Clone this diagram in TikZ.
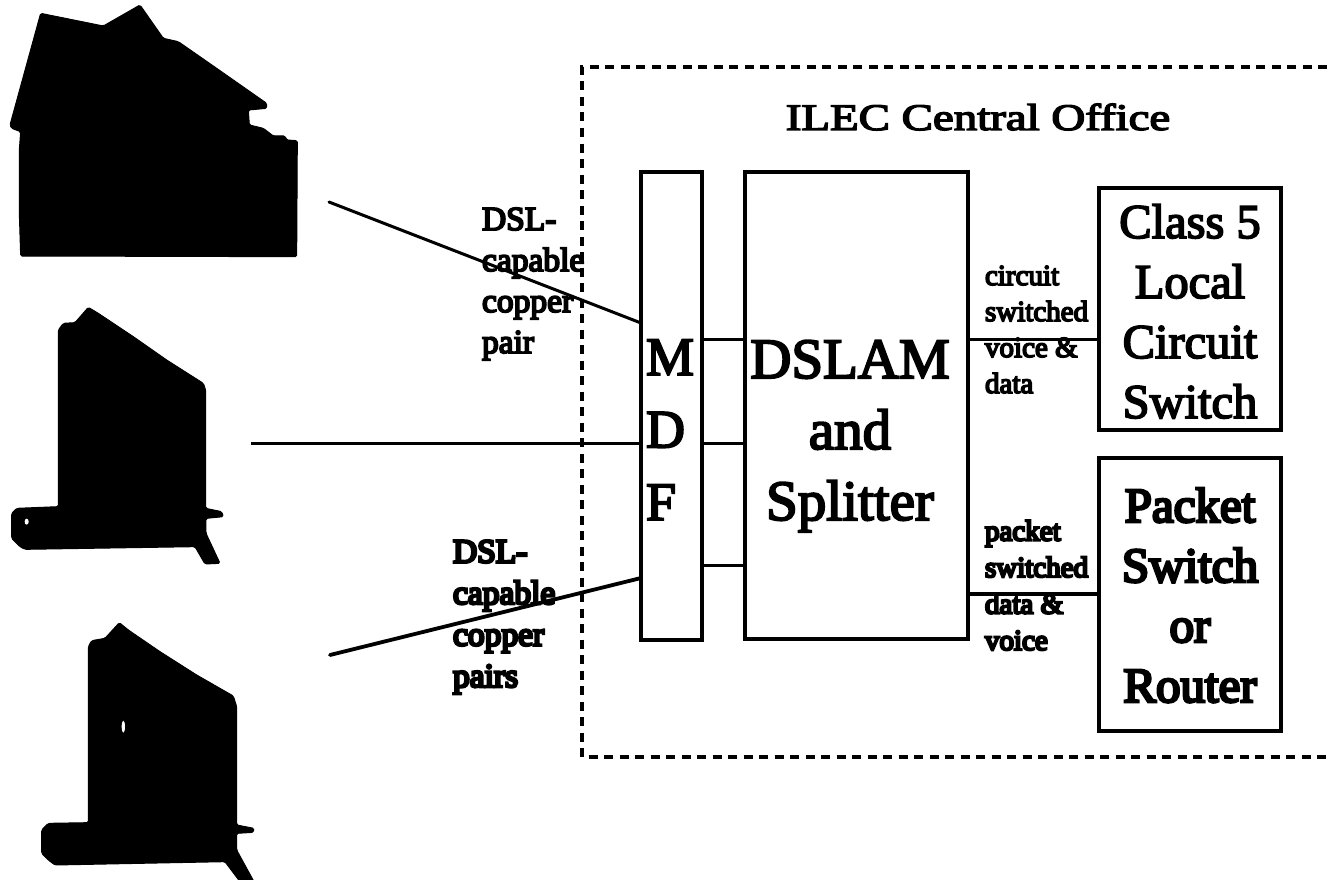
\documentclass[tikz,border=0pt]{standalone}
\usepackage{fontspec}
\setmainfont{Liberation Serif}
\newfontfamily\fatserif[FakeBold=3.5]{Liberation Serif}
\newfontfamily\fatterserif[FakeBold=5.5]{Liberation Serif}
\newfontfamily\fattestserif[FakeBold=8]{Liberation Serif}
\newcommand{\fsz}[2]{\fontsize{#1}{#2}\selectfont}
\tikzset{
  boxshape/.style={draw=black,line width=3.5pt,inner sep=0pt,outer sep=0pt,fill=none},
  wire/.style={draw=black,line width=3pt},
  thickwire/.style={draw=black,line width=3.8pt,line cap=round},
  officeline/.style={draw=black,line width=3.6pt,dash pattern=on 9pt off 6.5pt},
  house/.style={fill=black,draw=black,line width=1pt,rounded corners=1.5pt},
  tag/.style={inner sep=0pt,outer sep=0pt,anchor=base west,align=left},
  boxtext/.style={inner sep=0pt,outer sep=0pt,anchor=base,align=center},
}
\begin{document}
\begin{tikzpicture}[x=1pt,y=-1pt]
\useasboundingbox (0,0) rectangle (1327,880);
\fill[white] (0,0) rectangle (1327,880);

% houses
\begin{scope}[x=0.33333pt,y=-0.33333pt]
\path[house] (122,40) -- (310,78) -- (420,15) -- (490,115) -- (535,125) -- (660,212) -- (800,310) -- (800,325) -- (745,330) -- (748,375) -- (790,385) -- (820,408) -- (855,408) -- (860,420) -- (892,422) -- (890,770) -- (62,768) -- (58,640) -- (58,450) -- (62,395) -- (35,385) -- (30,375) -- cycle;
\end{scope}
\begin{scope}[shift={(0,290)},x=0.33333pt,y=-0.33333pt]
\path[house] (265,52) -- (295,70) -- (400,140) -- (500,210) -- (610,280) -- (617,300) -- (617,655) -- (665,665) -- (670,680) -- (618,685) -- (618,730) -- (660,820) -- (615,822) -- (585,770) -- (75,778) -- (60,770) -- (35,745) -- (35,670) -- (50,655) -- (175,650) -- (175,120) -- (190,100) -- (225,98) -- cycle;
\fill[white] (80,695) ellipse (6 and 9);
\end{scope}
\begin{scope}[shift={(20,600)},x=0.33333pt,y=-0.33333pt]
\path[house] (298,68) -- (325,90) -- (420,155) -- (530,225) -- (640,288) -- (650,320) -- (650,675) -- (702,685) -- (700,697) -- (650,700) -- (650,750) -- (702,845) -- (660,845) -- (615,785) -- (105,795) -- (85,780) -- (65,760) -- (65,690) -- (85,670) -- (205,668) -- (205,140) -- (215,122) -- (255,115) -- cycle;
\fill[white] (310,380) ellipse (5 and 18);
\end{scope}

% central office outline (open at the right)
\coordinate (officeTR) at (1327,67);
\coordinate (officeTL) at (582,67);
\coordinate (officeBL) at (582,757);
\coordinate (officeBR) at (1327,757);
\draw[officeline] (officeTR) -- (officeTL) -- (officeBL) -- (officeBR);
\node[inner sep=0pt,anchor=base,xscale=1.25,transform shape,font=\fatserif\fsz{37.5}{40}] (title) at (978,130) {ILEC Central Office};

% boxes
\node[boxshape,minimum width=61pt,minimum height=468pt] (mdf) at (671.5,406) {};
\node[boxshape,minimum width=223pt,minimum height=467pt] (dslam) at (856.5,405.5) {};
\node[boxshape,minimum width=182pt,minimum height=242pt] (classfive) at (1190,309) {};
\node[boxshape,minimum width=182pt,minimum height=273pt] (packet) at (1190,594.5) {};

% box texts
\node[tag,font=\fatserif\fsz{54}{72.5}] (mdftext) at (646,520) {M\\D\\F};
\node[boxtext,font=\fatserif\fsz{57}{71}] (dslamtext) at (850,520) {DSLAM\\and\\Splitter};
\node[boxtext,font=\fatserif\fsz{48.5}{60}] (classtext) at (1190,418) {Class 5\\Local\\Circuit\\Switch};
\node[boxtext,font=\fatterserif\fsz{49}{60}] (packettext) at (1190,702) {Packet\\Switch\\or\\Router};

% connectors
\coordinate (homeA) at (329,202);
\coordinate (homeB) at (251,443);
\coordinate (homeC) at (330,655);
\draw[wire,line cap=round] (homeA) -- (mdf.west |- 0,323);
\draw[wire] (homeB) -- (mdf.west |- 0,443);
\draw[thickwire] (homeC) -- (mdf.west |- 0,578);
\draw[wire] (mdf.east |- 0,339) -- (dslam.west |- 0,339);
\draw[wire] (mdf.east |- 0,443) -- (dslam.west |- 0,443);
\draw[wire] (mdf.east |- 0,565) -- (dslam.west |- 0,565);
\draw[wire] (dslam.east |- 0,339) -- (classfive.west |- 0,339);
\draw[thickwire,line cap=butt] (dslam.east |- 0,594) -- (packet.west |- 0,594);

% small labels
\node[tag,font=\fatterserif\fsz{33.5}{41}] (pairtop) at (482,353) {DSL-\\capable\\copper\\pair};
\node[tag,font=\fattestserif\fsz{33.5}{41.5}] (pairbottom) at (453,687) {DSL-\\capable\\copper\\pairs};
\node[tag,font=\fatterserif\fsz{29}{36}] (voicetext) at (985,393) {circuit\\switched\\voice \&\\data};
\node[tag,font=\fattestserif\fsz{29}{36.5}] (datatext) at (985,650) {packet\\switched\\data \&\\voice};
\end{tikzpicture}
\end{document}
